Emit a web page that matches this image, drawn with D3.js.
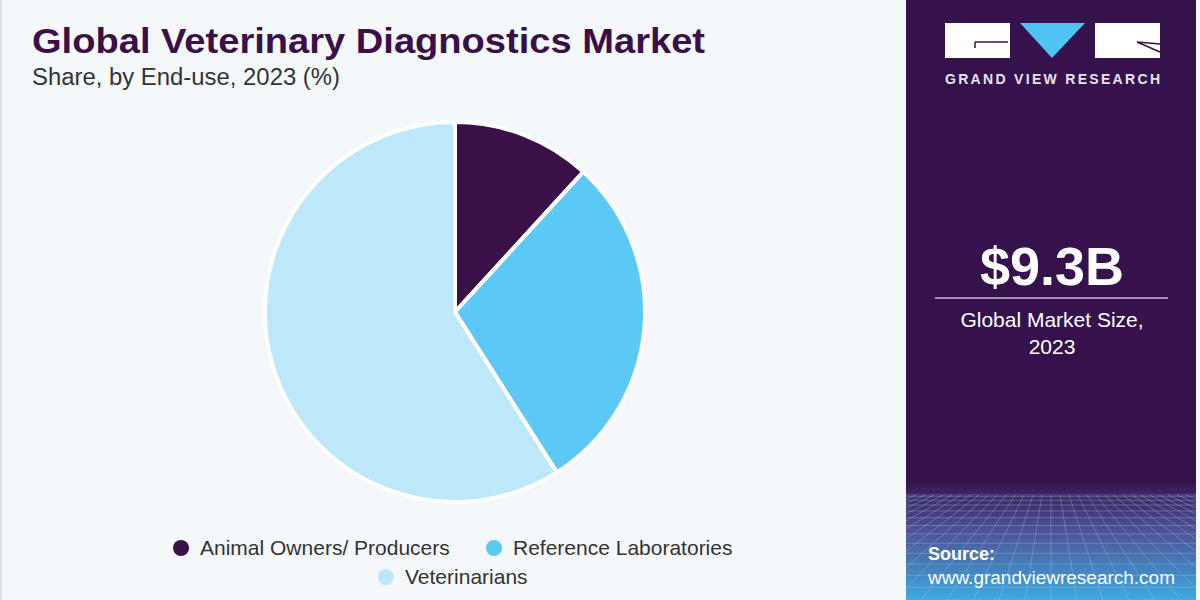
<!DOCTYPE html>
<html><head><meta charset="utf-8">
<script src="https://cdn.jsdelivr.net/npm/d3@7"></script>
<style>body{margin:0;background:#f4f8fb;}svg{display:block;}</style>
</head><body>
<script>
const categories = ["Animal Owners/ Producers", "Reference Laboratories", "Veterinarians"];
const shares = [11.8, 29.2, 59.0];
const colors = ["#3a1049", "#5bc8f5", "#bde8f9"];
const title = "Global Veterinary Diagnostics Market";
const subtitle = "Share, by End-use, 2023 (%)";
const marketSize = "$9.3B";
const marketLabel = ["Global Market Size,", "2023"];

const W = 1200, H = 600;
const font = "'Liberation Sans',Arial,sans-serif";
const svg = d3.select("body").append("svg").attr("width", W).attr("height", H);

svg.append("rect").attr("width", W).attr("height", H).attr("fill", "#f4f8fb");
svg.append("rect").attr("x", 0).attr("y", 0).attr("width", 2).attr("height", H).attr("fill", "#dde1e6");

svg.append("text").attr("x", 32).attr("y", 53).text(title)
  .attr("textLength", 673).attr("lengthAdjust", "spacingAndGlyphs")
  .attr("font-family", font).attr("font-weight", "bold").attr("font-size", 35).attr("fill", "#3a1049");
svg.append("text").attr("x", 32).attr("y", 85).text(subtitle)
  .attr("textLength", 308).attr("lengthAdjust", "spacingAndGlyphs")
  .attr("font-family", font).attr("font-size", 23).attr("fill", "#333");

// pie
const data = categories.map((c, i) => ({ name: c, value: shares[i], color: colors[i] }));
const pie = d3.pie().value(d => d.value).sort(null);
const arc = d3.arc().innerRadius(0).outerRadius(190);
const g = svg.append("g").attr("transform", "translate(455,312)");
g.selectAll("path").data(pie(data)).join("path")
  .attr("d", arc).attr("fill", d => d.data.color)
  .attr("stroke", "#ffffff").attr("stroke-width", 4).attr("stroke-linejoin", "round");

// legend
const leg1 = [{ d: data[0], x: 181, y: 548 }, { d: data[1], x: 494, y: 548 }, { d: data[2], x: 386, y: 577 }];
leg1.forEach(l => {
  svg.append("circle").attr("cx", l.x).attr("cy", l.y).attr("r", 8).attr("fill", l.d.color);
  svg.append("text").attr("x", l.x + 19).attr("y", l.y + 7).text(l.d.name)
    .attr("font-family", font).attr("font-size", 21).attr("fill", "#333");
});

// right panel
const px = 906, pw = 290;
const defs = svg.append("defs");
const grad = defs.append("linearGradient").attr("id", "bg").attr("x1", 0).attr("y1", 0).attr("x2", 0).attr("y2", 1);
grad.append("stop").attr("offset", "0%").attr("stop-color", "#35124c");
grad.append("stop").attr("offset", "80%").attr("stop-color", "#35124c");
grad.append("stop").attr("offset", "88%").attr("stop-color", "#4e4f94");
grad.append("stop").attr("offset", "100%").attr("stop-color", "#3ea9de");
svg.append("rect").attr("x", px).attr("y", 0).attr("width", pw).attr("height", H).attr("fill", "url(#bg)");
defs.append("clipPath").attr("id", "pclip").append("rect").attr("x", px).attr("y", 0).attr("width", pw).attr("height", H);

// perspective grid in bottom area
const gridG = svg.append("g").attr("clip-path", "url(#pclip)")
  .attr("stroke", "#9fc4ea").attr("stroke-opacity", 0.35).attr("stroke-width", 1);
const horizon = 495;
d3.range(0, 14).forEach(i => {
  const y = horizon + Math.pow(i / 13, 1.6) * 105;
  gridG.append("line").attr("x1", px).attr("x2", px + pw).attr("y1", y).attr("y2", y);
});
d3.range(-20, 21).forEach(i => {
  const xTop = px + 145 + i * 9;
  const xBot = px + 145 + i * 26;
  gridG.append("line").attr("x1", xTop).attr("y1", horizon).attr("x2", xBot).attr("y2", H);
});

// logo
svg.append("rect").attr("x", 945).attr("y", 23).attr("width", 65).attr("height", 35).attr("fill", "#fff");
svg.append("path").attr("d", "M975,42 L1008,42 M975,42 L975,48").attr("stroke", "#35124c").attr("stroke-width", 1.5).attr("fill", "none");
svg.append("path").attr("d", "M1020,23 L1085,23 L1052,58 Z").attr("fill", "#4fc3f2");
svg.append("rect").attr("x", 1095).attr("y", 23).attr("width", 65).attr("height", 35).attr("fill", "#fff");
svg.append("path").attr("d", "M1137,42 L1160,52 M1137,42 L1160,44").attr("stroke", "#35124c").attr("stroke-width", 1.5).attr("fill", "none");
svg.append("text").attr("x", 945).attr("y", 84).text("GRAND VIEW RESEARCH")
  .attr("textLength", 215).attr("lengthAdjust", "spacing")
  .attr("font-family", font).attr("font-weight", "bold").attr("font-size", 14).attr("fill", "#e8e4ee");

svg.append("text").attr("x", 1052).attr("y", 285).attr("text-anchor", "middle").text(marketSize)
  .attr("font-family", font).attr("font-weight", "bold").attr("font-size", 54).attr("fill", "#fff");
svg.append("line").attr("x1", 935).attr("x2", 1168).attr("y1", 298).attr("y2", 298)
  .attr("stroke", "#c9bfd6").attr("stroke-width", 1.5);
marketLabel.forEach((t, i) => {
  svg.append("text").attr("x", 1052).attr("y", 327 + i * 27).attr("text-anchor", "middle").text(t)
    .attr("font-family", font).attr("font-size", 21).attr("fill", "#fff");
});
svg.append("text").attr("x", 928).attr("y", 560).text("Source:")
  .attr("font-family", font).attr("font-weight", "bold").attr("font-size", 18).attr("fill", "#fff");
svg.append("text").attr("x", 928).attr("y", 584).text("www.grandviewresearch.com")
  .attr("textLength", 247).attr("lengthAdjust", "spacingAndGlyphs")
  .attr("font-family", font).attr("font-size", 18).attr("fill", "#fff");
</script>
</body></html>
